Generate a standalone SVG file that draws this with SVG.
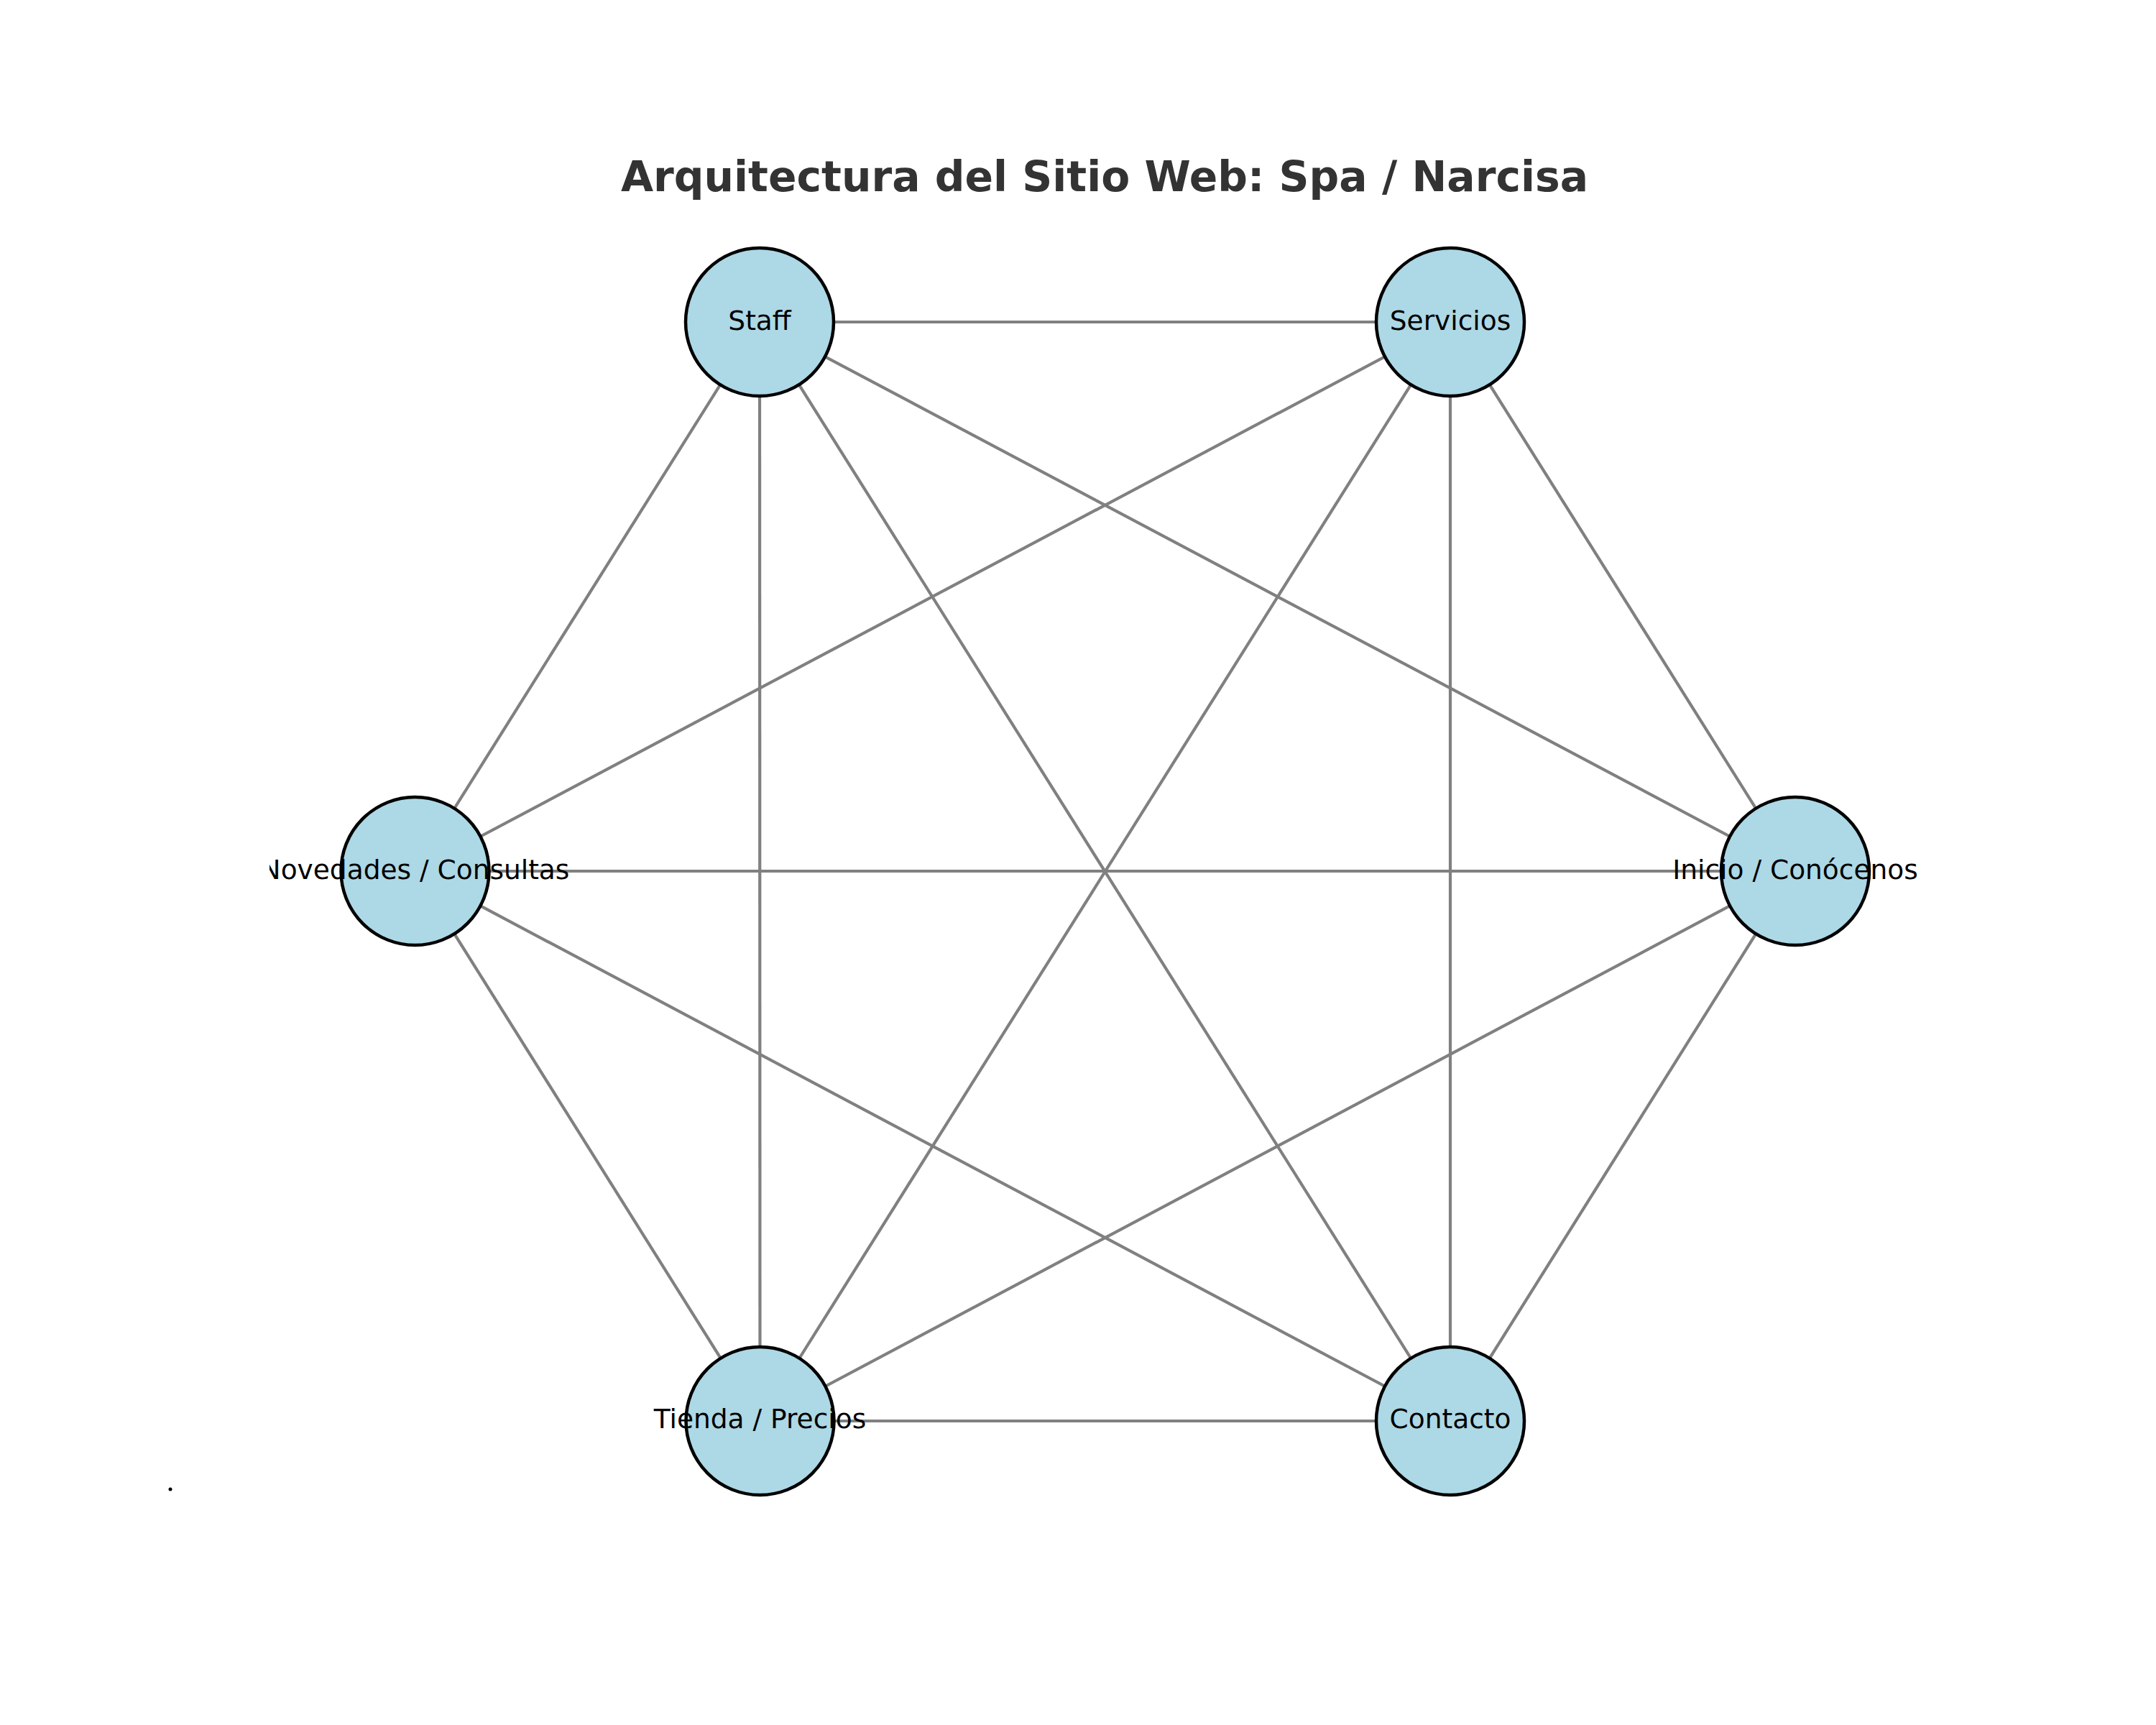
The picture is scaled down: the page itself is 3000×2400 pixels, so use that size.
<svg xmlns="http://www.w3.org/2000/svg" width="3000" height="2400" viewBox="0 0 3000 2400">
<style>
.edge{stroke:#808080;stroke-width:4.2;fill:none}
.node{fill:#add8e6;stroke:#000000;stroke-width:4.5}
.lbl{font-family:"DejaVu Sans",sans-serif;font-size:37.5px;fill:#000000;text-anchor:middle}
.title{font-family:"DejaVu Sans",sans-serif;font-size:58.3px;font-weight:bold;fill:#333333;text-anchor:middle}
</style>
<defs>
<clipPath id="axclip"><rect x="375" y="0" width="2625" height="2400"/></clipPath>
</defs>
<rect width="3000" height="2400" fill="#ffffff"/>
<text class="title" x="1537" y="266">Arquitectura del Sitio Web: Spa / Narcisa</text>
<g id="connectors">
<line class="edge" x1="1057" y1="448" x2="2018" y2="448"/>
<line class="edge" x1="1057" y1="448" x2="577.5" y2="1212"/>
<line class="edge" x1="1057" y1="448" x2="1057.5" y2="1977"/>
<line class="edge" x1="1057" y1="448" x2="2018" y2="1977"/>
<line class="edge" x1="1057" y1="448" x2="2498" y2="1212"/>
<line class="edge" x1="2018" y1="448" x2="577.5" y2="1212"/>
<line class="edge" x1="2018" y1="448" x2="1057.5" y2="1977"/>
<line class="edge" x1="2018" y1="448" x2="2018" y2="1977"/>
<line class="edge" x1="2018" y1="448" x2="2498" y2="1212"/>
<line class="edge" x1="577.5" y1="1212" x2="2498" y2="1212"/>
<line class="edge" x1="577.5" y1="1212" x2="1057.5" y2="1977"/>
<line class="edge" x1="577.5" y1="1212" x2="2018" y2="1977"/>
<line class="edge" x1="2498" y1="1212" x2="1057.5" y2="1977"/>
<line class="edge" x1="2498" y1="1212" x2="2018" y2="1977"/>
<line class="edge" x1="1057.5" y1="1977" x2="2018" y2="1977"/>
</g>
<g id="node-staff"><circle class="node" cx="1057" cy="448" r="103"/><text class="lbl" x="1057" y="459">Staff</text></g>
<g id="node-servicios"><circle class="node" cx="2018" cy="448" r="103"/><text class="lbl" x="2018" y="459">Servicios</text></g>
<g id="node-novedades"><circle class="node" cx="577.5" cy="1212" r="103"/><text class="lbl" x="577.5" y="1223" clip-path="url(#axclip)">Novedades / Consultas</text></g>
<g id="node-inicio"><circle class="node" cx="2498" cy="1212" r="103"/><text class="lbl" x="2498" y="1223">Inicio / Conócenos</text></g>
<g id="node-tienda"><circle class="node" cx="1057.5" cy="1977" r="103"/><text class="lbl" x="1057.5" y="1987">Tienda / Precios</text></g>
<g id="node-contacto"><circle class="node" cx="2018" cy="1977" r="103"/><text class="lbl" x="2018" y="1987">Contacto</text></g>
<circle cx="237" cy="2072" r="2.5" fill="#000000"/>
</svg>
